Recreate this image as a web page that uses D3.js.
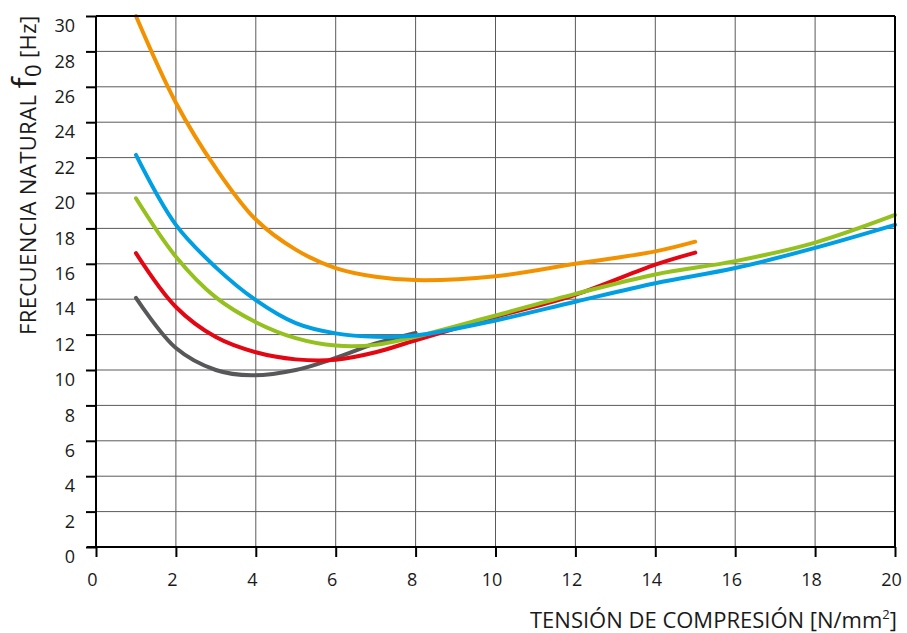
<!DOCTYPE html>
<html><head><meta charset="utf-8">
<script src="https://cdn.jsdelivr.net/npm/d3@7"></script>
<style>html,body{margin:0;padding:0;background:#fff}svg{display:block}</style>
</head><body>
<svg id="chart" width="907" height="633"></svg>
<script>
const xTicks = [0,2,4,6,8,10,12,14,16,18,20];
const yTicks = [0,2,4,6,8,10,12,14,16,18,20,22,24,26,28,30];

const grayX = [1,2,3,3.9,5,6,7,8];
const grayY = [14.07,11.24,10.0,9.7,10.0,10.68,11.5,12.1];

const redX = [1,2,3,4,5,6,7,8,10,12,14,15];
const redY = [16.6,13.56,11.86,11.0,10.6,10.58,11.0,11.68,13.0,14.25,15.95,16.63];

const greenX = [1,2,3,4,5,6,7,8,10,12,14,16,18,20];
const greenY = [19.7,16.4,14.1,12.7,11.8,11.38,11.42,11.88,13.08,14.3,15.4,16.15,17.2,18.76];

const blueX = [1,2,3,4,5,6,7,8,10,12,14,16,18,20];
const blueY = [22.15,18.2,15.8,13.95,12.65,12.07,11.88,11.95,12.8,13.86,14.9,15.76,16.9,18.2];

const orangeX = [1,2,3,4,5,6,7,8,10,12,14,15];
const orangeY = [30,25.1,21.4,18.5,16.8,15.76,15.27,15.08,15.3,16.0,16.7,17.25];

const series = [
  {x: grayX, y: grayY, color: "#58585a"},
  {x: redX, y: redY, color: "#e30613"},
  {x: greenX, y: greenY, color: "#95c11f"},
  {x: blueX, y: blueY, color: "#009fe3"},
  {x: orangeX, y: orangeY, color: "#f39200"}
];

const svg = d3.select("#chart");
const L = 96, R = 895, T = 16, B = 547;
const x = d3.scaleLinear().domain([0,20]).range([L,R]);
const y = d3.scaleLinear().domain([0,30]).range([B,T]);
const font = "'Open Sans', 'Noto Sans', sans-serif";

// grid
const g = svg.append("g");
g.selectAll("line.v").data(xTicks.slice(1,-1)).join("line")
  .attr("x1", d=>x(d)).attr("x2", d=>x(d)).attr("y1", T).attr("y2", B)
  .attr("stroke", "#5a5a5a").attr("stroke-width", 1);
g.selectAll("line.h").data(yTicks.slice(1,-1)).join("line")
  .attr("y1", d=>y(d)).attr("y2", d=>y(d)).attr("x1", L).attr("x2", R)
  .attr("stroke", "#5a5a5a").attr("stroke-width", 1);

// curves
const line = d3.line().curve(d3.curveCatmullRom.alpha(0.5));
series.forEach(s => {
  const pts = s.x.map((v,i)=>[x(v), y(s.y[i])]);
  svg.append("path").attr("d", line(pts)).attr("fill","none")
    .attr("stroke", s.color).attr("stroke-width", 4).attr("stroke-linecap","round");
});

// frame
svg.append("line").attr("x1",L).attr("x2",R).attr("y1",T).attr("y2",T).attr("stroke","#000").attr("stroke-width",2);
svg.append("line").attr("x1",R).attr("x2",R).attr("y1",T).attr("y2",B).attr("stroke","#000").attr("stroke-width",2);

// axes
const xAxis = d3.axisBottom(x).tickValues(xTicks).tickSize(10).tickSizeOuter(0).tickFormat(d3.format("d"));
const yAxis = d3.axisLeft(y).tickValues(yTicks).tickSize(10).tickSizeOuter(0).tickFormat(d3.format("d"));
const xa = svg.append("g").attr("transform", `translate(0,${B})`).call(xAxis);
const ya = svg.append("g").attr("transform", `translate(${L},0)`).call(yAxis);
[xa, ya].forEach(a => {
  a.select(".domain").attr("stroke","#000").attr("stroke-width",2);
  a.selectAll(".tick line").attr("stroke","#000").attr("stroke-width",2);
  a.selectAll(".tick text").attr("fill","#1a1a1a").style("font-family", font).style("font-size","18px");
});
xa.select(".domain").attr("d", `M${L-9},0H${R}`);
ya.select(".domain").attr("d", `M0,${B}V${T}`);
xa.selectAll(".tick text").attr("y", 26).attr("dx", "-4");
ya.selectAll(".tick text").attr("x", -21).attr("dy", "0.32em").attr("transform","translate(0,10)");

// axis titles
const xt = svg.append("text").attr("x", 897).attr("y", 628).attr("text-anchor","end")
  .style("font-family", font).style("font-size","22px").attr("fill","#1a1a1a");
xt.append("tspan").text("TENSIÓN DE COMPRESIÓN [N/mm");
xt.append("tspan").text("2").attr("dy", -9).style("font-size","13px");
xt.append("tspan").text("]").attr("dy", 9);

const yt = svg.append("text").attr("transform","translate(36,335) rotate(-90)").attr("text-anchor","start")
  .style("font-family", font).style("font-size","22px").style("letter-spacing","0.4px").attr("fill","#1a1a1a");
yt.append("tspan").text("FRECUENCIA NATURAL ");
yt.append("tspan").text("f").style("font-size","33px");
yt.append("tspan").text("0").attr("dy", 5).style("font-size","22px");
yt.append("tspan").text(" [Hz]").attr("dy", -5);
</script>
</body></html>
